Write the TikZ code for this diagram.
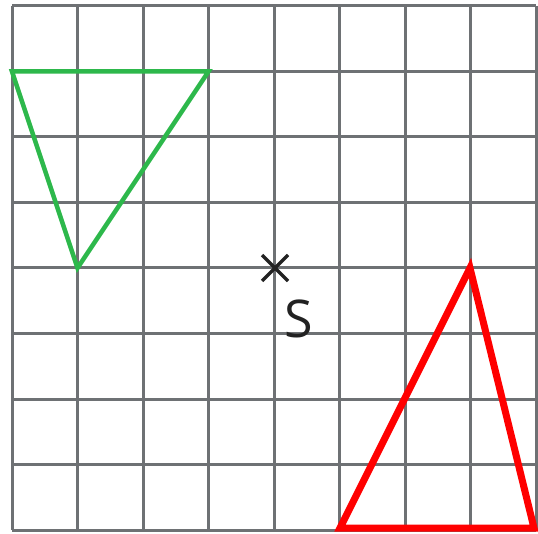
\documentclass[tikz,border=0pt]{standalone}
\usepackage{fontspec}
\setmainfont{Open Sans}
\definecolor{gridgray}{HTML}{6E7174}
\definecolor{trigreen}{HTML}{2DB84B}
\definecolor{trired}{HTML}{FF0000}
\definecolor{ink}{HTML}{222222}
\begin{document}
\begin{tikzpicture}[x=1pt,y=-1pt,
  gridline/.style={gridgray,line width=3pt},
  greentri/.style={trigreen,line width=4.5pt,line join=miter},
  redtri/.style={trired,line width=7pt,line join=miter},
  cross/.style={ink,line width=3.5pt}]
\useasboundingbox (0,0) rectangle (538,534);
\fill[white] (0,0) rectangle (538,534);
% grid: origin (12,6), cell 65.5
\foreach \i in {0,...,8}{
  \draw[gridline] (12+\i*65.5,6) -- (12+\i*65.5,530);
  \draw[gridline] (12,6+\i*65.5) -- (536,6+\i*65.5);
}
% green triangle
\coordinate (g1) at (12,71.5);
\coordinate (g2) at (208.5,71.5);
\coordinate (g3) at (77.5,268);
\draw[greentri] (g1) -- (g2) -- (g3) -- cycle;
% red triangle
\coordinate (r1) at (340,528);
\coordinate (r2) at (534,528);
\coordinate (r3) at (470,268);
\draw[redtri] (r1) -- (r2) -- (r3) -- cycle;
% centre S
\coordinate (s) at (275,268);
\draw[cross] ([shift={(-13,-13)}]s) -- ([shift={(13,13)}]s);
\draw[cross] ([shift={(-13,13)}]s) -- ([shift={(13,-13)}]s);
\node[ink,font=\fontsize{52}{52}\selectfont,inner sep=0pt] (slabel) at (299,319) {S};
\end{tikzpicture}
\end{document}
